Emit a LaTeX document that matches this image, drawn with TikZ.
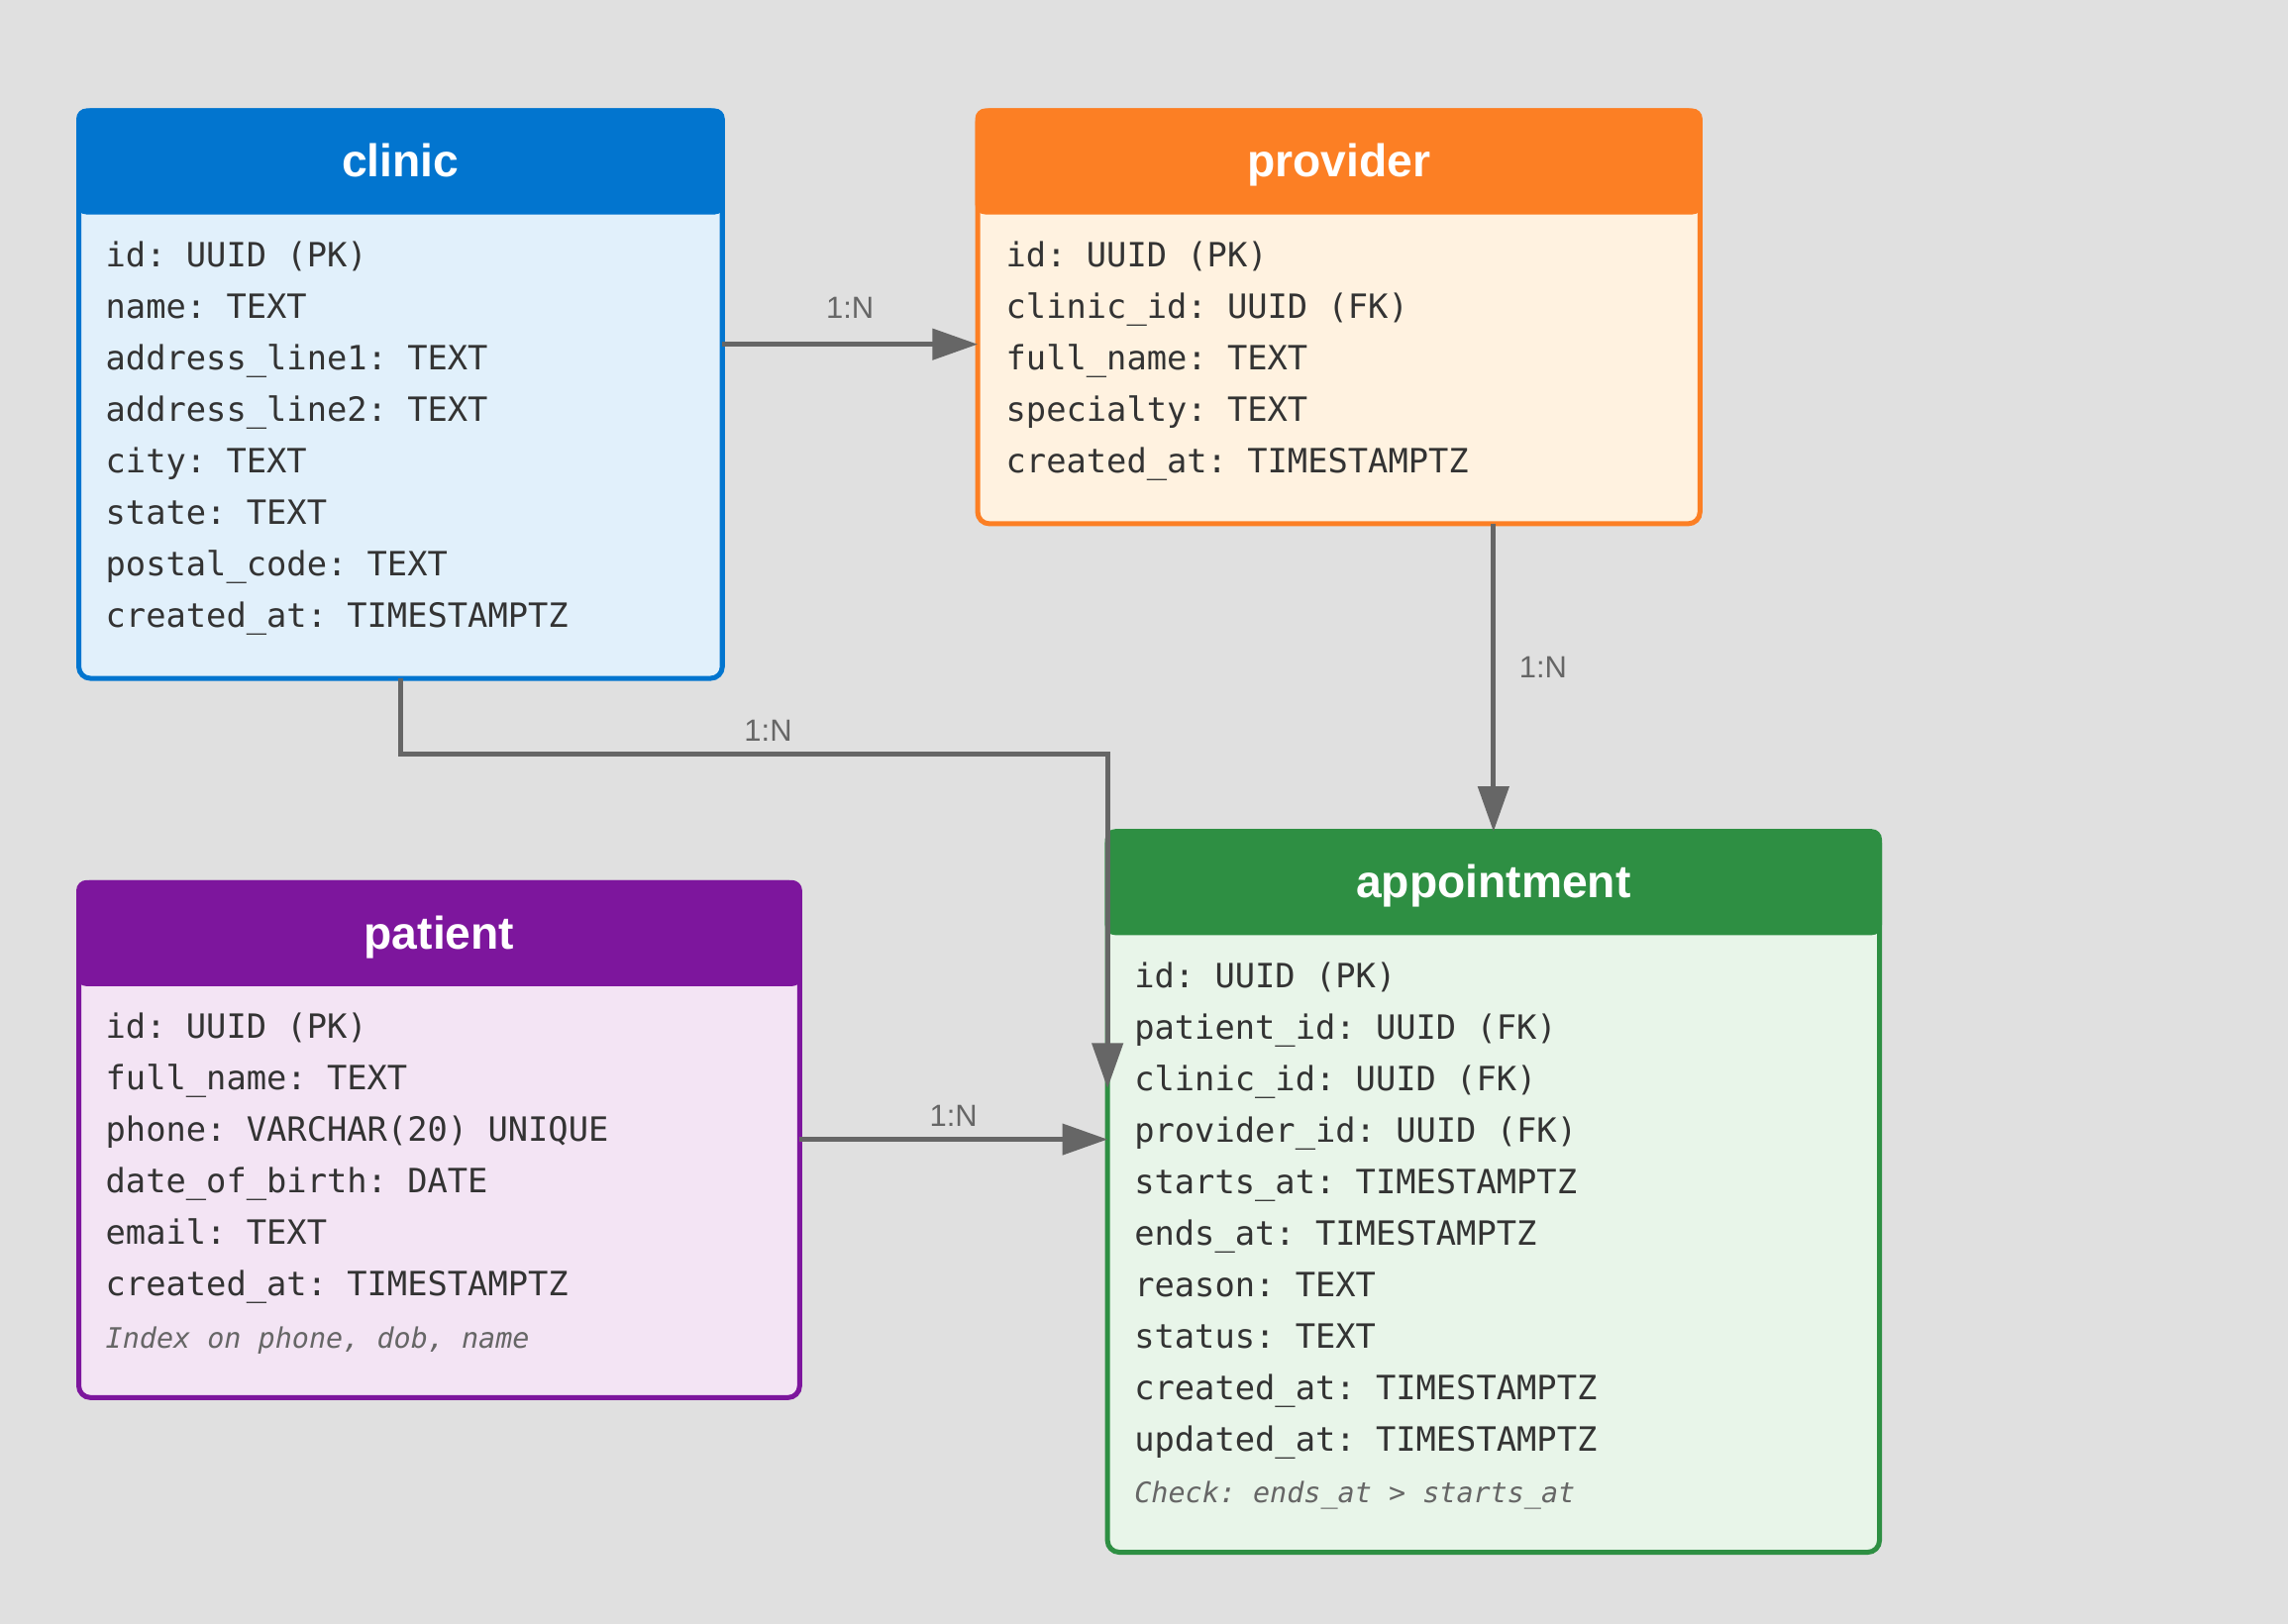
\documentclass[tikz,border=0pt]{standalone}
\usepackage{fontspec}
\setmainfont{Liberation Sans}
\setmonofont{DejaVu Sans Mono}
\usetikzlibrary{arrows.meta}
\definecolor{canvas}{HTML}{E0E0E0}
\definecolor{clinic}{HTML}{0275CF}
\definecolor{bgclinic}{HTML}{E1F0FB}
\definecolor{provider}{HTML}{FC7F24}
\definecolor{bgprovider}{HTML}{FFF2E0}
\definecolor{patient}{HTML}{7D169D}
\definecolor{bgpatient}{HTML}{F3E4F4}
\definecolor{appointment}{HTML}{2E8F43}
\definecolor{bgappointment}{HTML}{E8F5E9}
\definecolor{wire}{HTML}{666666}
\definecolor{ink}{HTML}{333333}
\tikzset{
    tabbox/.style={rectangle, rounded corners=4pt, line width=1.7pt, outer sep=0pt, inner sep=0pt, anchor=north west},
    tabname/.style={anchor=base, inner sep=0pt, text=white, font=\fontsize{15.7}{18}\selectfont\bfseries},
    field/.style={anchor=base west, inner sep=0pt, text=ink, font=\ttfamily\fontsize{11.45}{14}\selectfont},
    note/.style={anchor=base west, inner sep=0pt, text=wire, font=\ttfamily\itshape\fontsize{9.65}{12}\selectfont},
    rel/.style={draw=wire, line width=1.6pt, -{Triangle[length=15.5pt, width=10.5pt]}},
    lbl/.style={inner sep=0pt, text=wire, font=\fontsize{10.5}{12}\selectfont},
}
\begin{document}
\begin{tikzpicture}[x=0.5pt, y=-0.5pt]
    \fill[canvas] (0,0) rectangle (1568,1113); % 背景
    \foreach \n/\xa/\ya/\xb/\yb in {clinic/54/76/495/465, provider/670/76/1165/359, patient/54/605/548/958, appointment/759/570/1288/1064} {
        \node[tabbox, draw=\n, fill=bg\n, minimum width={(\xb-\xa)*0.5pt}, minimum height={(\yb-\ya)*0.5pt}] (\n) at (\xa,\ya) {}; % 表框
        \fill[\n, rounded corners=3.5pt] ([shift={(-.85pt,.85pt)}]\n.north west) rectangle ([xshift=.85pt]\xb,\ya+71); % 表头
        \node[tabname] (\n-t) at ({(\xa+\xb)/2},\ya+45.5) {\n};
    }
    \foreach \r [count=\i from 0] in {id: UUID (PK), name: TEXT, address\_line1: TEXT, address\_line2: TEXT, city: TEXT, state: TEXT, postal\_code: TEXT, created\_at: TIMESTAMPTZ}
        \node[field] (clinic-\i) at (72,183+35.3*\i) {\r};
    \foreach \r [count=\i from 0] in {id: UUID (PK), clinic\_id: UUID (FK), full\_name: TEXT, specialty: TEXT, created\_at: TIMESTAMPTZ}
        \node[field] (provider-\i) at (689,183+35.3*\i) {\r};
    \foreach \r [count=\i from 0] in {id: UUID (PK), full\_name: TEXT, phone: VARCHAR(20) UNIQUE, date\_of\_birth: DATE, email: TEXT, created\_at: TIMESTAMPTZ}
        \node[field] (patient-\i) at (72,712+35.3*\i) {\r};
    \foreach \r [count=\i from 0] in {id: UUID (PK), patient\_id: UUID (FK), clinic\_id: UUID (FK), provider\_id: UUID (FK), starts\_at: TIMESTAMPTZ, ends\_at: TIMESTAMPTZ, reason: TEXT, status: TEXT, created\_at: TIMESTAMPTZ, updated\_at: TIMESTAMPTZ}
        \node[field] (appointment-\i) at (777,677+35.3*\i) {\r};
    \node[note] (patient-note) at (72,924) {Index on phone, dob, name}; % 索引说明
    \node[note] (appointment-note) at (777,1030) {Check: ends\_at > starts\_at}; % 约束说明
    \coordinate (r1) at (0,236);
    \coordinate (bend) at (0,517);
    \coordinate (tipc) at (0,746);
    \coordinate (r4) at (0,781);
    \draw[rel] (clinic.east |- r1) -- node[lbl, yshift=12.5pt] (l1) {1:N} (provider.west |- r1);
    \draw[rel] (appointment.north |- provider.south) -- node[lbl, pos=.465, xshift=17pt] (l2) {1:N} (appointment.north);
    \draw[rel] (clinic.south) |- node[lbl, pos=.76, yshift=8pt] (l3) {1:N} (appointment.west |- bend) -- (appointment.west |- tipc);
    \draw[rel] (patient.east |- r4) -- node[lbl, yshift=8pt] (l4) {1:N} (appointment.west |- r4);
\end{tikzpicture}
\end{document}
